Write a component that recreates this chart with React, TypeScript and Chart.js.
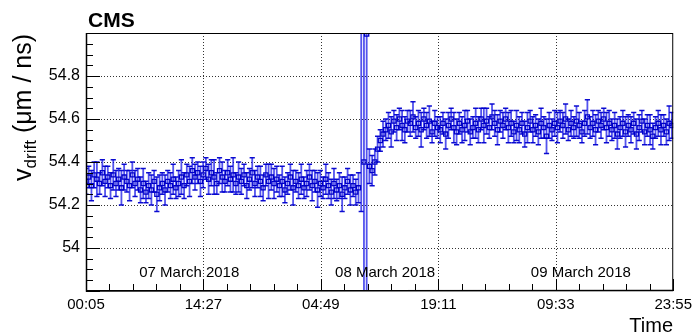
import React, { useEffect, useRef } from 'react';
import { Chart, registerables } from 'chart.js';

Chart.register(...registerables);

// time axis in minutes after 07 March 2018 00:05, one measurement every 20 minutes
const sampleStepMinutes = 20;
const axisMaxMinutes = 4310;

const vdrift = [
  54.31, 54.33, 54.29, 54.34, 54.32, 54.30, 54.35, 54.31, 54.33, 54.29,
  54.34, 54.30, 54.32, 54.28, 54.33, 54.31, 54.29, 54.34, 54.30, 54.32,
  54.27, 54.30, 54.26, 54.29, 54.27, 54.31, 54.25, 54.28, 54.30, 54.27,
  54.31, 54.29, 54.32, 54.28, 54.30, 54.33, 54.29, 54.34, 54.31, 54.36,
  54.33, 54.35, 54.31, 54.34, 54.37, 54.32, 54.35, 54.33, 54.30, 54.36,
  54.33, 54.31, 54.35, 54.32, 54.34, 54.30, 54.33, 54.31, 54.34, 54.29,
  54.32, 54.35, 54.30, 54.33, 54.31, 54.28, 54.34, 54.31, 54.33, 54.30,
  54.32, 54.29, 54.31, 54.27, 54.30, 54.33, 54.28, 54.31, 54.29, 54.32,
  54.28, 54.30, 54.33, 54.29, 54.31, 54.27, 54.30, 54.28, 54.32, 54.29,
  54.26, 54.30, 54.27, 54.29, 54.25, 54.28, 54.31, 54.27, 54.29, 54.26,
  54.28, 55.40, 54.40, 54.995, 54.38, 54.36, 54.40, 54.46, 54.50, 54.53,
  54.55, 54.57, 54.54, 54.59, 54.56, 54.60, 54.57, 54.55, 54.59, 54.58,
  54.61, 54.56, 54.58, 54.55, 54.60, 54.57, 54.59, 54.54, 54.58, 54.56,
  54.55, 54.58, 54.53, 54.57, 54.60, 54.56, 54.54, 54.58, 54.55, 54.57,
  54.59, 54.54, 54.56, 54.58, 54.55, 54.60, 54.57, 54.59, 54.56, 54.61,
  54.58, 54.55, 54.59, 54.57, 54.60, 54.56, 54.58, 54.54, 54.57, 54.55,
  54.58, 54.53, 54.56, 54.59, 54.55, 54.57, 54.54, 54.58, 54.56, 54.52,
  54.57, 54.55, 54.58, 54.56, 54.59, 54.57, 54.60, 54.55, 54.58, 54.56,
  54.59, 54.57, 54.54, 54.58, 54.61, 54.56, 54.58, 54.55, 54.59, 54.57,
  54.60, 54.56, 54.58, 54.55, 54.57, 54.53, 54.56, 54.58, 54.54, 54.57,
  54.55, 54.58, 54.53, 54.56, 54.59, 54.54, 54.57, 54.55, 54.52, 54.56,
  54.58, 54.55, 54.57, 54.54, 54.58, 54.57,
];

const vdriftErr = [
  0.06, 0.05, 0.07, 0.06, 0.08, 0.05, 0.06, 0.07, 0.05, 0.06,
  0.07, 0.06, 0.05, 0.08, 0.06, 0.05, 0.07, 0.06, 0.06, 0.05,
  0.06, 0.07, 0.05, 0.06, 0.07, 0.05, 0.08, 0.06, 0.05, 0.07,
  0.05, 0.06, 0.07, 0.05, 0.06, 0.08, 0.06, 0.05, 0.07, 0.06,
  0.06, 0.05, 0.07, 0.06, 0.05, 0.07, 0.06, 0.08, 0.05, 0.06,
  0.07, 0.05, 0.06, 0.06, 0.08, 0.05, 0.07, 0.06, 0.05, 0.06,
  0.05, 0.07, 0.06, 0.05, 0.07, 0.06, 0.05, 0.08, 0.06, 0.07,
  0.06, 0.05, 0.07, 0.06, 0.05, 0.06, 0.08, 0.05, 0.06, 0.07,
  0.05, 0.06, 0.06, 0.07, 0.05, 0.08, 0.06, 0.05, 0.07, 0.06,
  0.06, 0.07, 0.05, 0.06, 0.08, 0.05, 0.06, 0.07, 0.05, 0.06,
  0.07, 1.23, 0.90, 1.30, 0.08, 0.07, 0.06, 0.06, 0.05, 0.06,
  0.05, 0.06, 0.07, 0.05, 0.06, 0.05, 0.07, 0.06, 0.05, 0.06,
  0.07, 0.05, 0.06, 0.08, 0.05, 0.06, 0.07, 0.05, 0.06, 0.05,
  0.06, 0.05, 0.07, 0.06, 0.05, 0.07, 0.06, 0.05, 0.06, 0.07,
  0.05, 0.06, 0.05, 0.07, 0.06, 0.05, 0.08, 0.06, 0.05, 0.06,
  0.06, 0.07, 0.05, 0.06, 0.05, 0.07, 0.06, 0.05, 0.07, 0.06,
  0.05, 0.06, 0.07, 0.05, 0.06, 0.05, 0.06, 0.07, 0.05, 0.08,
  0.06, 0.05, 0.06, 0.07, 0.05, 0.06, 0.07, 0.05, 0.06, 0.05,
  0.07, 0.06, 0.05, 0.06, 0.08, 0.05, 0.06, 0.07, 0.05, 0.06,
  0.05, 0.07, 0.06, 0.05, 0.06, 0.07, 0.05, 0.06, 0.07, 0.05,
  0.06, 0.05, 0.07, 0.06, 0.05, 0.06, 0.05, 0.07, 0.06, 0.05,
  0.06, 0.07, 0.05, 0.06, 0.08, 0.06,
];

const xTickValues = [0, 862, 1724, 2586, 3448, 4310];
const xTickLabels = ['00:05', '14:27', '04:49', '19:11', '09:33', '23:55'];
const yTickValues = [54, 54.2, 54.4, 54.6, 54.8];
const yTickLabels = ['54', '54.2', '54.4', '54.6', '54.8'];
const dateLabels = ['07 March 2018', '08 March 2018', '09 March 2018'];
const dateLabelMinutes = [758, 2195, 3632];

const FONT = '"Liberation Sans", Arial, Helvetica, sans-serif';

const rootStylePlugin = {
  id: 'rootStyle',
  beforeDatasetsDraw(chart: any) {
    const { ctx, chartArea } = chart;
    const xs = chart.scales.x;
    const ys = chart.scales.y;
    const { left, right, top, bottom } = chartArea;
    ctx.save();
    // dotted grid
    ctx.strokeStyle = '#333';
    ctx.lineWidth = 1;
    ctx.setLineDash([1, 2]);
    xTickValues.forEach((v) => {
      const px = Math.round(xs.getPixelForValue(v)) + 0.5;
      if (px <= left + 1 || px >= right - 1) return;
      ctx.beginPath();
      ctx.moveTo(px, top);
      ctx.lineTo(px, bottom);
      ctx.stroke();
    });
    yTickValues.forEach((v) => {
      const py = Math.round(ys.getPixelForValue(v)) + 0.5;
      ctx.beginPath();
      ctx.moveTo(left, py);
      ctx.lineTo(right, py);
      ctx.stroke();
    });
    ctx.setLineDash([]);
    ctx.restore();

    // error bars
    ctx.save();
    ctx.beginPath();
    ctx.rect(left, top, right - left, bottom - top);
    ctx.clip();
    vdrift.forEach((v, i) => {
      const e = vdriftErr[i];
      const px = xs.getPixelForValue(i * sampleStepMinutes);
      const yHi = ys.getPixelForValue(v + e);
      const yLo = ys.getPixelForValue(v - e);
      ctx.strokeStyle = 'rgba(10,10,230,0.7)';
      ctx.lineWidth = 1.8;
      ctx.beginPath();
      ctx.moveTo(px, yHi);
      ctx.lineTo(px, yLo);
      ctx.stroke();
      ctx.strokeStyle = 'rgba(0,0,205,0.95)';
      ctx.lineWidth = 1.5;
      ctx.beginPath();
      ctx.moveTo(px - 2.6, yHi);
      ctx.lineTo(px + 2.6, yHi);
      ctx.moveTo(px - 2.6, yLo);
      ctx.lineTo(px + 2.6, yLo);
      ctx.stroke();
    });
    ctx.restore();
  },
  afterDatasetsDraw(chart: any) {
    const { ctx, chartArea } = chart;
    const xs = chart.scales.x;
    const ys = chart.scales.y;
    const { left, right, top, bottom } = chartArea;
    ctx.save();
    ctx.strokeStyle = '#000';
    ctx.lineWidth = 1;
    // frame
    ctx.strokeRect(left + 0.5, top + 0.5, right - left - 1, bottom - top - 1);
    ctx.lineWidth = 1.5;
    ctx.beginPath();
    ctx.moveTo(left + 0.5, top);
    ctx.lineTo(left + 0.5, bottom);
    ctx.lineTo(right, bottom - 0.5);
    ctx.stroke();
    ctx.lineWidth = 1;
    // y ticks (major every 0.2, minor every 0.05) pointing inward
    ctx.beginPath();
    for (let k = 0; k <= 24; k++) {
      const v = 53.8 + k * 0.05;
      const py = Math.round(ys.getPixelForValue(v)) + 0.5;
      const len = k % 4 === 0 ? 14 : 7;
      ctx.moveTo(left, py);
      ctx.lineTo(left + len, py);
    }
    // x ticks, 5 subdivisions
    for (let k = 0; k <= 25; k++) {
      const v = (k * 862) / 5;
      const px = Math.round(xs.getPixelForValue(v)) + 0.5;
      const len = k % 5 === 0 ? 12 : 7;
      ctx.moveTo(px, bottom);
      ctx.lineTo(px, bottom - len);
    }
    ctx.stroke();

    // texts
    ctx.fillStyle = '#000';
    ctx.textBaseline = 'alphabetic';
    ctx.font = `bold 21px ${FONT}`;
    ctx.textAlign = 'left';
    ctx.fillText('CMS', 88, 27);

    ctx.font = `20px ${FONT}`;
    ctx.textAlign = 'right';
    ctx.fillText('Time', 673, 332);

    ctx.font = `15px ${FONT}`;
    ctx.textAlign = 'center';
    dateLabels.forEach((t, i) => {
      ctx.fillText(t, xs.getPixelForValue(dateLabelMinutes[i]), 277);
    });

    // y title: v_drift (μm / ns), right-aligned at top of axis
    ctx.translate(31, 34);
    ctx.rotate(-Math.PI / 2);
    ctx.textAlign = 'left';
    ctx.font = `25px ${FONT}`;
    const w1 = ctx.measureText('v').width;
    const w3 = ctx.measureText(' (μm / ns)').width;
    ctx.font = `17px ${FONT}`;
    const w2 = ctx.measureText('drift').width;
    let x = -(w1 + w2 + w3);
    ctx.font = `25px ${FONT}`;
    ctx.fillText('v', x, 0);
    x += w1;
    ctx.font = `17px ${FONT}`;
    ctx.fillText('drift', x, 5);
    x += w2;
    ctx.font = `25px ${FONT}`;
    ctx.fillText(' (μm / ns)', x, 0);
    ctx.restore();
  },
};

export default function App() {
  const canvasRef = useRef<HTMLCanvasElement | null>(null);

  useEffect(() => {
    document.body.style.margin = '0';
    const canvas = canvasRef.current;
    if (!canvas) return;
    const points = vdrift.map((v, i) => ({ x: i * sampleStepMinutes, y: v }));
    const chart = new Chart(canvas, {
      type: 'scatter',
      data: {
        datasets: [
          {
            data: points,
            pointStyle: 'rect',
            pointRadius: 2.9,
            borderWidth: 1.3,
            borderColor: 'rgba(0,0,200,1)',
            backgroundColor: 'rgba(0,0,0,0)',
            showLine: false,
          },
        ],
      },
      options: {
        animation: false,
        responsive: false,
        devicePixelRatio: 1,
        layout: { padding: { top: 33, right: 20, bottom: 0, left: 0 } },
        plugins: { legend: { display: false }, tooltip: { enabled: false } },
        events: [],
        scales: {
          x: {
            type: 'linear',
            min: 0,
            max: axisMaxMinutes,
            grid: { display: false, drawTicks: false },
            border: { display: false },
            afterBuildTicks: (scale: any) => {
              scale.ticks = xTickValues.map((v) => ({ value: v }));
            },
            afterFit: (scale: any) => {
              scale.height = 44;
            },
            ticks: {
              autoSkip: false,
              maxRotation: 0,
              padding: 5,
              color: '#000',
              font: { family: FONT, size: 15 },
              callback: (_v: any, idx: number) => xTickLabels[idx],
            },
          },
          y: {
            type: 'linear',
            min: 53.8,
            max: 55.0,
            grid: { display: false, drawTicks: false },
            border: { display: false },
            afterBuildTicks: (scale: any) => {
              scale.ticks = yTickValues.map((v) => ({ value: v }));
            },
            afterFit: (scale: any) => {
              scale.width = 86;
            },
            ticks: {
              autoSkip: false,
              padding: 6,
              color: '#000',
              font: { family: FONT, size: 16 },
              callback: (_v: any, idx: number) => yTickLabels[idx],
            },
          },
        },
      },
      plugins: [rootStylePlugin],
    });
    return () => chart.destroy();
  }, []);

  return (
    <div style={{ position: 'absolute', left: 0, top: 0, width: 697, height: 335, background: '#fff' }}>
      <canvas ref={canvasRef} width={697} height={335} style={{ display: 'block' }} />
    </div>
  );
}
